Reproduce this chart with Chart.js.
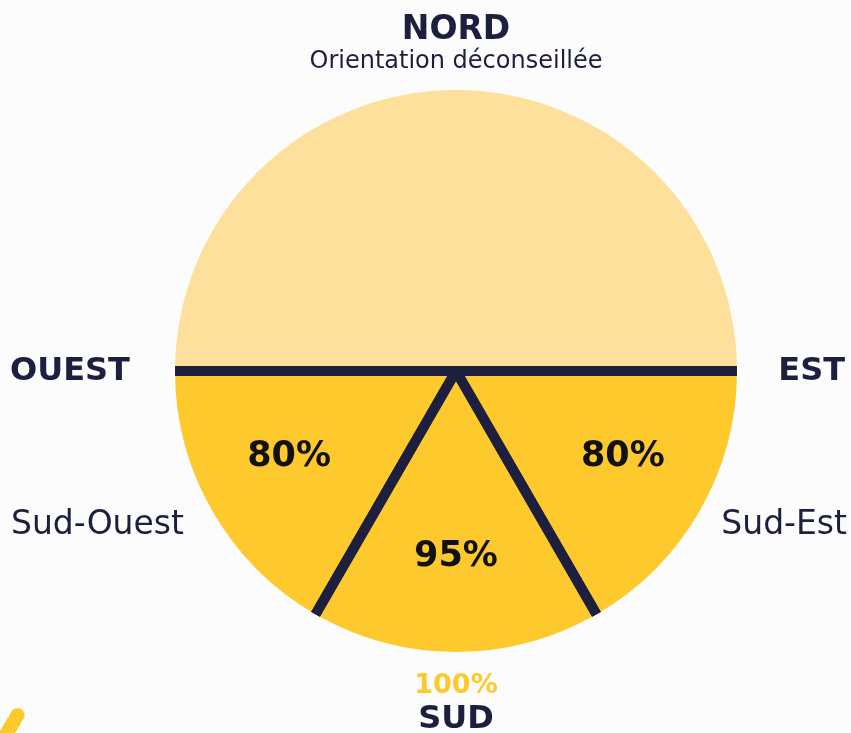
<!DOCTYPE html>
<html lang="fr">
<head>
<meta charset="utf-8">
<script src="https://cdn.jsdelivr.net/npm/chart.js@4.4.1/dist/chart.umd.min.js"></script>
<style>
  html, body { margin: 0; padding: 0; background: #fcfcfd; }
  #wrap { position: relative; width: 851px; height: 733px; overflow: hidden; }
  #deco { position: absolute; left: 3px; top: 706px; width: 14px; height: 44px; border-radius: 7px;
          background: #fec92c; transform: rotate(30deg); }
</style>
</head>
<body>
<div id="wrap">
  <canvas id="orientationChart" width="851" height="733"></canvas>
  <div id="deco"></div>
</div>
<script>
// orientations, in the order they are drawn (clockwise, starting from the west)
const orientations = ["Nord", "Sud-Est", "Sud", "Sud-Ouest"];
const sectorDegrees = [180, 60, 60, 60]; // angular share of each orientation
const yieldPercent = [null, 80, 95, 80]; // production compared to full south
const sectorColors = ["#fde09b", "#fec92c", "#fec92c", "#fec92c"];

const navy = "#1d1f3e";
const yellow = "#fec92c";
const font = "'DejaVu Sans', 'Noto Sans', sans-serif";

// dividing lines between sectors, clipped to the disc
const dividers = {
    id: "dividers",
    afterDatasetsDraw(chart) {
        const ctx = chart.ctx;
        const arcs = chart.getDatasetMeta(0).data;
        const { x, y, outerRadius } = arcs[0];
        ctx.save();
        ctx.beginPath();
        ctx.arc(x, y, outerRadius, 0, Math.PI * 2);
        ctx.clip();
        ctx.strokeStyle = navy;
        ctx.lineWidth = 10;
        ctx.lineCap = "butt";
        arcs.forEach(arc => {
            [arc.startAngle, arc.endAngle].forEach(a => {
                ctx.beginPath();
                ctx.moveTo(x, y);
                ctx.lineTo(x + Math.cos(a) * (outerRadius + 10), y + Math.sin(a) * (outerRadius + 10));
                ctx.stroke();
            });
        });
        ctx.restore();
    }
};

// percentages inside the sectors and compass labels around the disc
const labels = {
    id: "labels",
    afterDraw(chart) {
        const ctx = chart.ctx;
        const arcs = chart.getDatasetMeta(0).data;
        const { x, y, outerRadius: r } = arcs[0];
        ctx.save();
        ctx.textAlign = "center";
        ctx.textBaseline = "middle";

        arcs.forEach((arc, i) => {
            if (yieldPercent[i] === null) return;
            let mid = (arc.startAngle + arc.endAngle) / 2;
            mid += (mid - Math.PI / 2) * 0.04; // lean side labels a little toward the horizontal
            ctx.fillStyle = "#111111";
            ctx.font = "bold 35px " + font;
            ctx.fillText(yieldPercent[i] + "%", x + Math.cos(mid) * r * 0.67, y + Math.sin(mid) * r * 0.66);
        });

        ctx.fillStyle = navy;
        ctx.font = "bold 33px " + font;
        ctx.fillText("NORD", x, y - r - 60);
        ctx.font = "24px " + font;
        ctx.fillText("Orientation déconseillée", x, y - r - 28);

        ctx.font = "bold 32px " + font;
        ctx.textAlign = "left";
        ctx.fillText("OUEST", 10, y + 1);
        ctx.textAlign = "right";
        ctx.fillText("EST", chart.width - 6, y + 1);

        ctx.font = "33px " + font;
        ctx.textAlign = "left";
        ctx.fillText("Sud-Ouest", 11, y + 154);
        ctx.textAlign = "right";
        ctx.fillText("Sud-Est", chart.width - 4, y + 154);

        ctx.textAlign = "center";
        ctx.fillStyle = yellow;
        ctx.font = "bold 27px " + font;
        ctx.fillText("100%", x, y + r + 34);
        ctx.fillStyle = navy;
        ctx.font = "bold 32px " + font;
        ctx.fillText("SUD", x, y + r + 68);
        ctx.restore();
    }
};

const ctx = document.getElementById("orientationChart").getContext("2d");

new Chart(ctx, {
    type: "pie",
    data: {
        labels: orientations,
        datasets: [{
            data: sectorDegrees,
            backgroundColor: sectorColors,
            borderWidth: 0
        }]
    },
    options: {
        responsive: false,
        animation: false,
        rotation: -90, // start at the west, go clockwise over the north
        layout: { padding: { left: 175, right: 114, top: 90, bottom: 81 } },
        plugins: {
            legend: { display: false },
            tooltip: { enabled: false }
        }
    },
    plugins: [dividers, labels]
});
</script>
</body>
</html>
